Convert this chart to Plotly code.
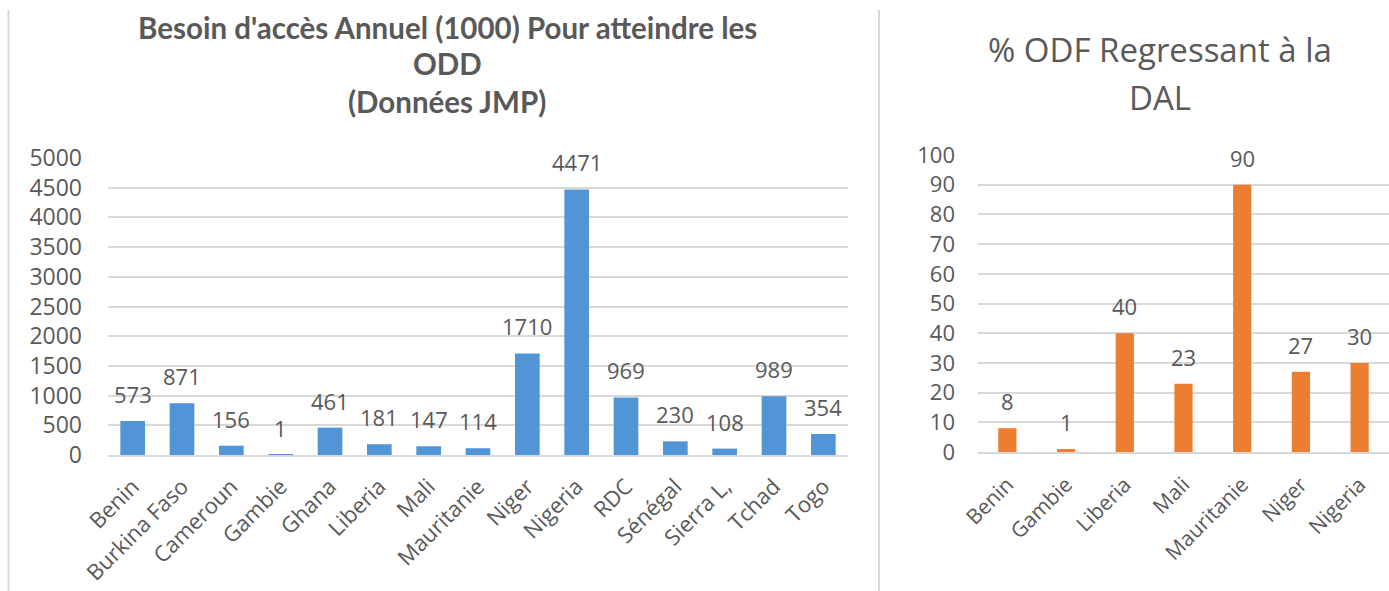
import plotly.graph_objects as go

# ---- data ----
left_categories = ["Benin", "Burkina Faso", "Cameroun", "Gambie", "Ghana", "Liberia", "Mali",
                   "Mauritanie", "Niger", "Nigeria", "RDC", "Sénégal", "Sierra L,", "Tchad", "Togo"]
left_values = [573, 871, 156, 1, 461, 181, 147, 114, 1710, 4471, 969, 230, 108, 989, 354]
left_ticks = [0, 500, 1000, 1500, 2000, 2500, 3000, 3500, 4000, 4500, 5000]
left_title_lines = ["Besoin d'accès Annuel (1000) Pour atteindre les", "ODD", "(Données JMP)"]

right_categories = ["Benin", "Gambie", "Liberia", "Mali", "Mauritanie", "Niger", "Nigeria"]
right_values = [8, 1, 40, 23, 90, 27, 30]
right_ticks = [0, 10, 20, 30, 40, 50, 60, 70, 80, 90, 100]
right_title_lines = ["% ODF Regressant à la", "DAL"]

W, H = 1389, 591
TXT = "#595959"
GRID = "#d9d9d9"
NUM_FONT = "Open Sans"

def px(x):
    return x / W

def py(y):
    return 1 - y / H

fig = go.Figure()

fig.add_trace(go.Bar(
    x=left_categories, y=left_values, xaxis="x", yaxis="y",
    width=0.5, marker=dict(color="#5195d6", line=dict(width=0)),
    hoverinfo="x+y", showlegend=False,
))
fig.add_trace(go.Bar(
    x=right_categories, y=right_values, xaxis="x2", yaxis="y2",
    width=0.31, marker=dict(color="#ed7d31", line=dict(width=0)),
    hoverinfo="x+y", showlegend=False,
))

annotations = []
for c, v in zip(left_categories, left_values):
    annotations.append(dict(x=c, y=v, xref="x", yref="y", text=str(v), showarrow=False,
                            yanchor="middle", yshift=27,
                            font=dict(family=NUM_FONT, size=22, color=TXT)))
for c, v in zip(right_categories, right_values):
    annotations.append(dict(x=c, y=v, xref="x2", yref="y2", text=str(v), showarrow=False,
                            yanchor="middle", yshift=27,
                            font=dict(family=NUM_FONT, size=22, color=TXT)))

for line, ypix in zip(left_title_lines, [28, 64, 101]):
    annotations.append(dict(x=px(447), y=py(ypix), xref="paper", yref="paper", text=line,
                            showarrow=False, xanchor="center", yanchor="middle",
                            font=dict(family="Lato", size=29.5, color=TXT, weight="bold")))
for line, ypix in zip(right_title_lines, [50, 97]):
    annotations.append(dict(x=px(1160), y=py(ypix), xref="paper", yref="paper", text=line,
                            showarrow=False, xanchor="center", yanchor="middle",
                            font=dict(family=NUM_FONT, size=33, color=TXT)))

shapes = [
    dict(type="line", xref="paper", yref="paper", x0=px(8.5), x1=px(8.5), y0=py(10), y1=0,
         line=dict(color="#d9d9d9", width=2)),
    dict(type="line", xref="paper", yref="paper", x0=px(879), x1=px(879), y0=py(10), y1=0,
         line=dict(color="#d9d9d9", width=2)),
]

fig.update_layout(
    width=W, height=H,
    margin=dict(l=0, r=0, t=0, b=0, autoexpand=False),
    paper_bgcolor="white", plot_bgcolor="white",
    annotations=annotations, shapes=shapes,
    xaxis=dict(domain=[px(108), px(848)], anchor="y", showgrid=False, automargin=False,
               showline=True, linecolor=GRID, linewidth=2, ticks="", ticklabelstandoff=8,
               tickangle=-45, tickfont=dict(family=NUM_FONT, size=22, color=TXT),
               fixedrange=True),
    yaxis=dict(domain=[py(455), py(158)], anchor="x", range=[0, 5000], automargin=False,
               tickvals=left_ticks, showgrid=True, gridcolor=GRID, gridwidth=1.5,
               zeroline=False, showline=False, ticks="", ticklabelstandoff=25,
               tickfont=dict(family=NUM_FONT, size=23, color=TXT), fixedrange=True),
    xaxis2=dict(domain=[px(978), 1.0], anchor="y2", showgrid=False, automargin=False,
                range=[-0.5, 6.5],
                showline=True, linecolor=GRID, linewidth=2, ticks="", ticklabelstandoff=10,
                tickangle=-45, tickfont=dict(family=NUM_FONT, size=21, color=TXT),
                fixedrange=True),
    yaxis2=dict(domain=[py(452), py(155)], anchor="x2", range=[0, 100], automargin=False,
                tickvals=right_ticks, showgrid=True, gridcolor=GRID, gridwidth=1.5,
                zeroline=False, showline=False, ticks="", ticklabelstandoff=22,
                tickfont=dict(family=NUM_FONT, size=22, color=TXT), fixedrange=True),
)

fig.write_html(
    "out.html",
    config={"displayModeBar": False},
    post_script="document.body.style.margin='0';document.body.style.overflow='hidden';",
)
